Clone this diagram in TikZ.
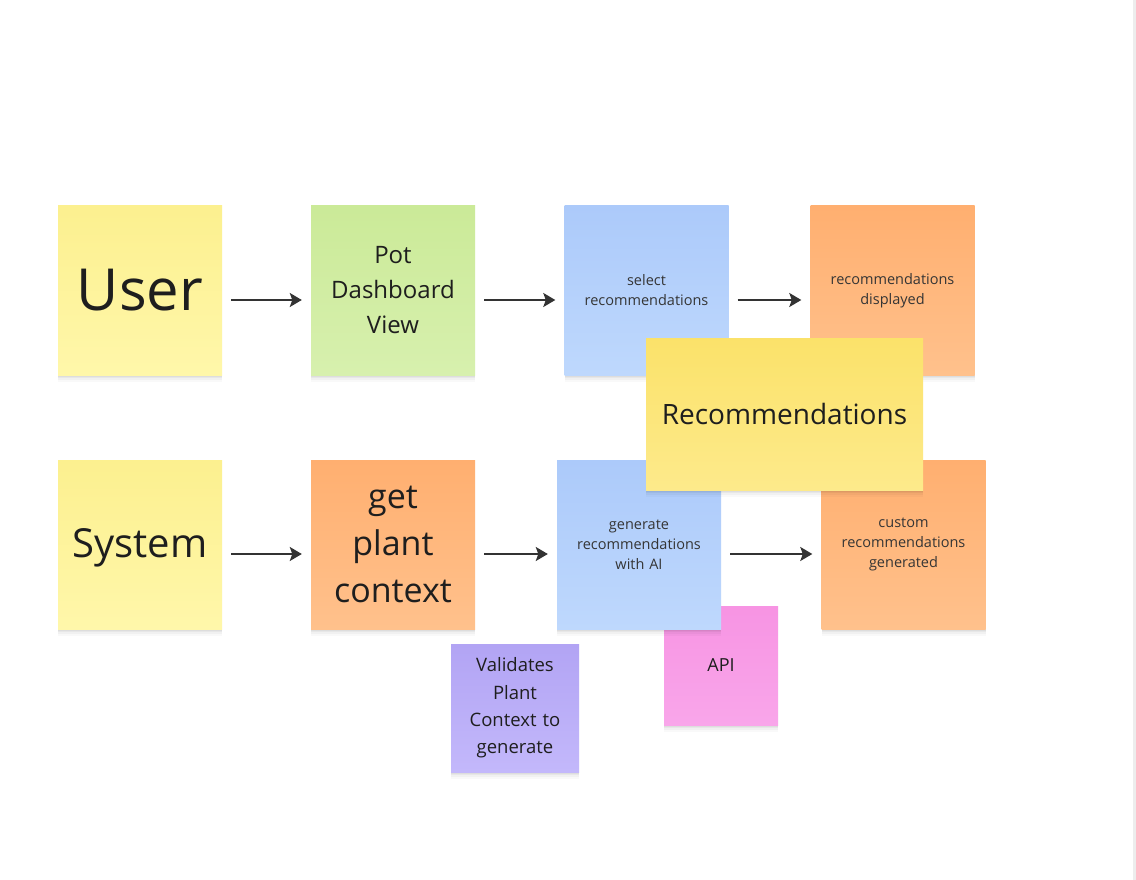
\documentclass[tikz,border=0pt]{standalone}
\usepackage{fontspec}
\setmainfont{Open Sans}
\usetikzlibrary{shadows,arrows.meta}
\definecolor{txt}{HTML}{1E1E1E}
\definecolor{arrc}{HTML}{333333}
\definecolor{yelT}{HTML}{FCF08F}\definecolor{yelB}{HTML}{FFF7AA}
\definecolor{grnT}{HTML}{CBEA98}\definecolor{grnB}{HTML}{D7F0AE}
\definecolor{bluT}{HTML}{ACCAFA}\definecolor{bluB}{HTML}{BED8FD}
\definecolor{orgT}{HTML}{FFAF70}\definecolor{orgB}{HTML}{FFC18C}
\definecolor{ryT}{HTML}{FBE26A}\definecolor{ryB}{HTML}{FDEA8B}
\definecolor{purT}{HTML}{B2A4F4}\definecolor{purB}{HTML}{C3B8FB}
\definecolor{pnkT}{HTML}{F794E3}\definecolor{pnkB}{HTML}{F9A6EA}
\tikzset{
  note/.style={rectangle, inner sep=4pt, align=center, text=txt,
    drop shadow={shadow xshift=0pt, shadow yshift=-7pt, opacity=0.025, fill=black},
    drop shadow={shadow xshift=0pt, shadow yshift=-5pt, opacity=0.03, fill=black},
    drop shadow={shadow xshift=0pt, shadow yshift=-3pt, opacity=0.04, fill=black},
    drop shadow={shadow xshift=0pt, shadow yshift=-1.5pt, opacity=0.04, fill=black}},
  sq/.style={note, minimum width=164pt, minimum height=169pt, text width=156pt},
  yel/.style={top color=yelT, bottom color=yelB},
  grn/.style={top color=grnT, bottom color=grnB},
  blu/.style={top color=bluT, bottom color=bluB},
  org/.style={top color=orgT, bottom color=orgB},
  ryl/.style={top color=ryT, bottom color=ryB},
  pur/.style={top color=purT, bottom color=purB},
  pnk/.style={top color=pnkT, bottom color=pnkB},
  small/.style={font=\fontsize{14.5}{20}\selectfont, text=txt!90!white},
  arr/.style={draw=arrc, line width=2pt, -{Stealth[length=12pt,width=14pt,inset=2.5pt]},
    shorten <=9pt, shorten >=9pt}
}
\begin{document}
\begin{tikzpicture}[x=1pt,y=-1pt]
\useasboundingbox (0,0) rectangle (1136,880);
\fill[white] (0,0) rectangle (1136,880);
\fill[black!7] (1133,0) rectangle (1136,880);
% top row
\node[sq, yel, font=\fontsize{58}{70}\selectfont] (user) at (140,290.5) {User};
\node[sq, grn, font=\fontsize{24}{35}\selectfont] (pot) at (393,290.5) {Pot\\Dashboard\\View};
\node[sq, blu, small] (sel) at (646.5,290.5) {select\\recommendations};
\node[sq, org, small] (disp) at (892.5,290.5) {recommendations\\displayed};
% bottom row
\node[note, pnk, minimum width=114pt, minimum height=119pt, font=\fontsize{18}{26}\selectfont] (api) at (721,665.5) {API};
\node[sq, yel, font=\fontsize{40}{50}\selectfont, text depth=2pt] (sys) at (140,544.5) {System};
\node[sq, org, font=\fontsize{34}{47}\selectfont] (ctx) at (393,544.5) {get\\plant\\context};
\node[sq, blu, small] (gen) at (639,544.5) {generate\\recommendations\\with AI};
\node[sq, org, small] (cust) at (903.5,544.5) {custom\\recommendations\\generated};
\node[note, pur, minimum width=124pt, minimum height=128pt, text width=120pt, font=\fontsize{18.5}{27.3}\selectfont] (val) at (515,708) {Validates\\Plant\\Context to\\generate};
% overlay
\node[note, ryl, minimum width=277pt, minimum height=152pt, font=\fontsize{28}{34}\selectfont] (rec) at (784.5,414) {Recommendations};
% arrows
\draw[arr] ([yshift=-9.5pt]user.east) -- ([yshift=-9.5pt]pot.west);
\draw[arr] ([yshift=-9.5pt]pot.east) -- ([yshift=-9.5pt]sel.west);
\draw[arr] ([yshift=-9.5pt]sel.east) -- ([yshift=-9.5pt]disp.west);
\draw[arr] ([yshift=-9.5pt]sys.east) -- ([yshift=-9.5pt]ctx.west);
\draw[arr] ([yshift=-9.5pt]ctx.east) -- ([yshift=-9.5pt]gen.west);
\draw[arr] ([yshift=-9.5pt]gen.east) -- ([yshift=-9.5pt]cust.west);
\end{tikzpicture}
\end{document}
